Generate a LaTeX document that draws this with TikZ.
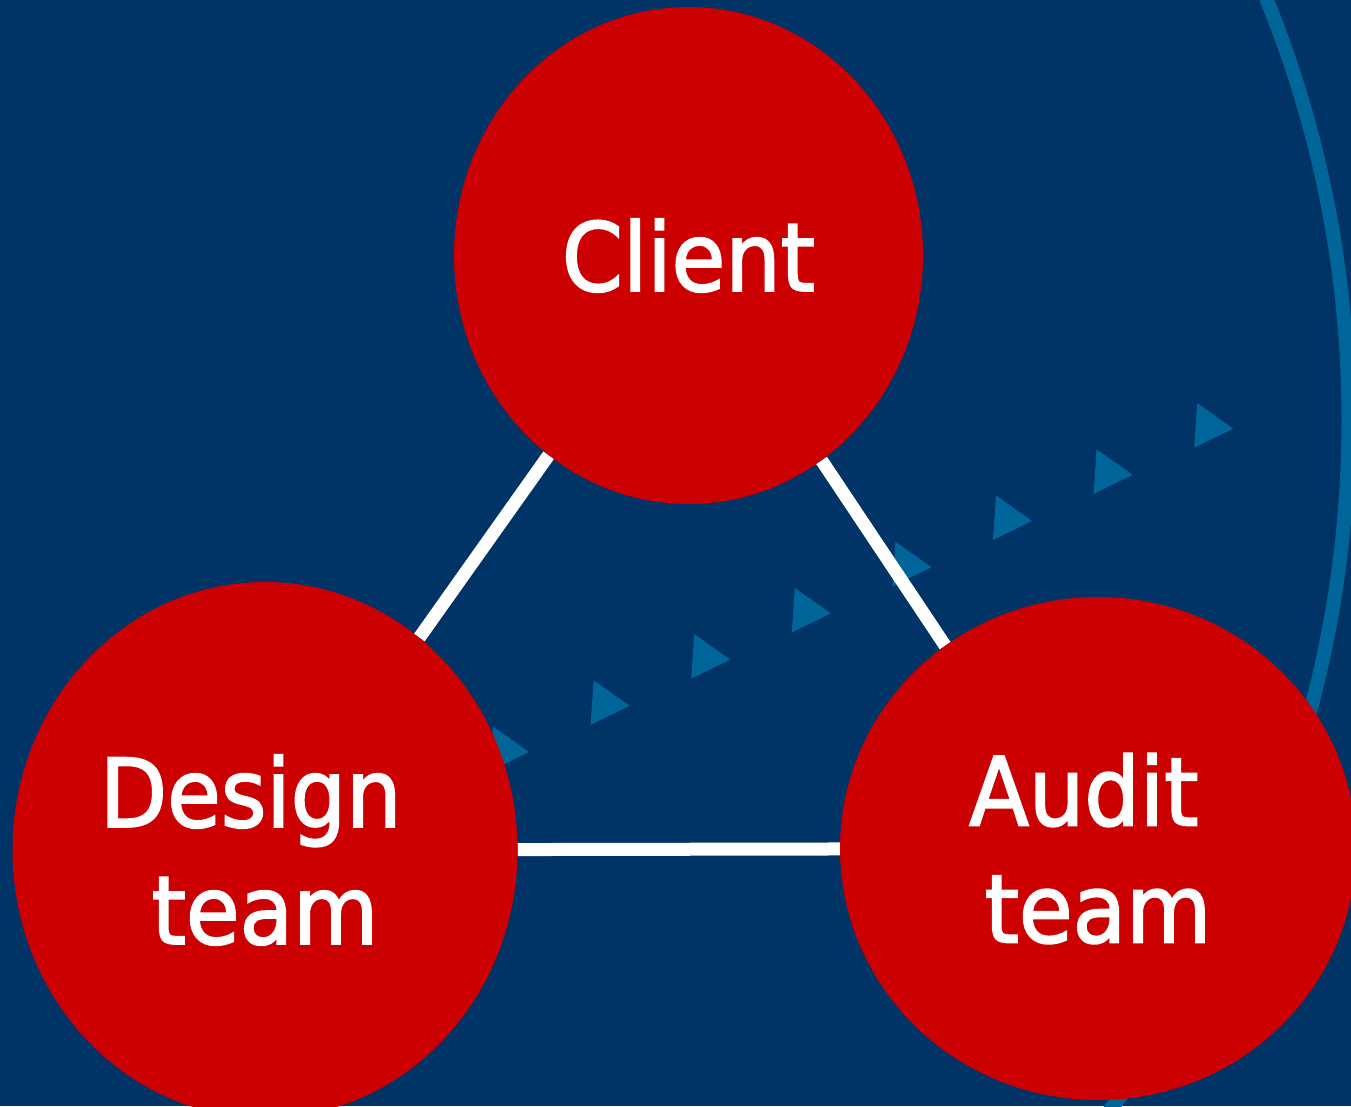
\documentclass[tikz,border=0pt]{standalone}
\usepackage{fontspec}
\setmainfont{DejaVu Sans}[FakeStretch=0.92,FakeBold=2]
\usetikzlibrary{shapes.geometric}
\definecolor{navy}{HTML}{003366}
\definecolor{teamred}{HTML}{CC0000}
\definecolor{steel}{HTML}{006699}
\pgfdeclarelayer{front}
\pgfsetlayers{main,front}

\begin{document}
\begin{tikzpicture}[x=1pt,y=-1pt,
  party/.style={ellipse,fill=teamred,text=white,inner sep=0pt,align=center,
    font=\fontsize{95}{117}\selectfont},
  link/.style={white,line width=13pt}]
% Background
\useasboundingbox (0,0) rectangle (1351,1106);
\clip (0,0) rectangle (1351,1106);
\fill[navy] (0,0) rectangle (1351,1106);

% Big arc on the right
\draw[steel,line width=14pt] (231.5,420) circle (1117pt);

% Row of triangles
\foreach \i in {0,...,7}
  \fill[steel] ({490+100.6*\i},{771-46.2*\i}) -- ++(3,-44.5) -- ++(36,25.5) -- cycle;

% Parties
\begin{pgfonlayer}{front}
\node[party,minimum width=469pt,minimum height=497pt] (client) at (688.5,255.5) {Client};
\node[party,minimum width=505pt,minimum height=536pt] (design) at (265,850) {Design\hspace*{.3em}\\team};
\node[party,minimum width=516pt,minimum height=503pt] (audit) at (1098,848.5) {Audit\hspace*{.3em}\\team};
\end{pgfonlayer}

% Links
\draw[link] (client.235) -- (design.54);
\draw[link] (client.-57) -- (audit.127);
\draw[link] (design) -- (audit);
\end{tikzpicture}
\end{document}
